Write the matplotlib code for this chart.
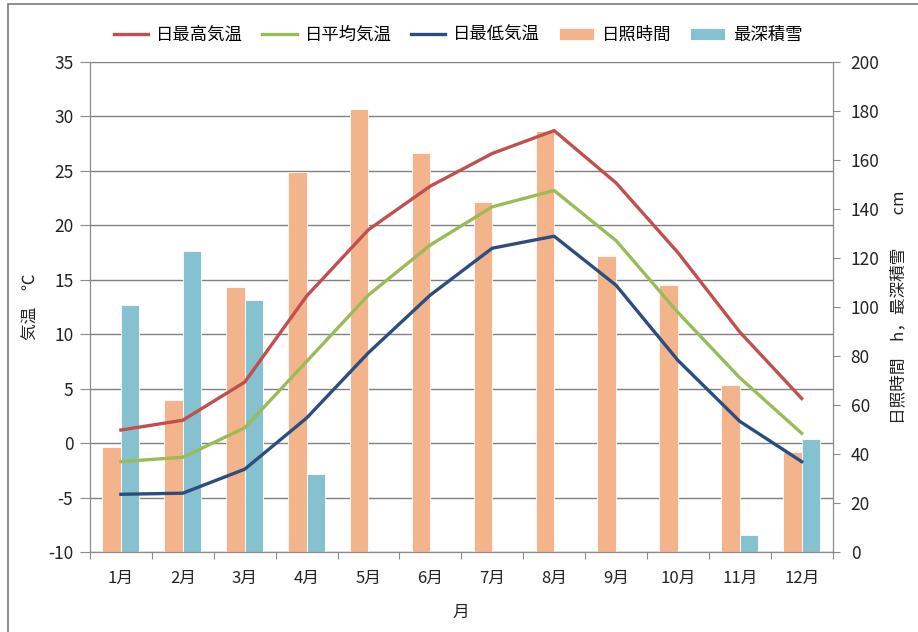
import numpy as np
import matplotlib as mpl
mpl.use('Agg')
import matplotlib.pyplot as plt
from matplotlib.patches import Rectangle

plt.rcParams['font.family'] = ['Noto Sans CJK JP', 'DejaVu Sans']
plt.rcParams['axes.unicode_minus'] = False

# monthly climate normals
months = ['1月', '2月', '3月', '4月', '5月', '6月', '7月', '8月', '9月', '10月', '11月', '12月']
t_max = [1.2, 2.1, 5.6, 13.5, 19.6, 23.6, 26.6, 28.7, 23.9, 17.5, 10.2, 4.1]
t_mean = [-1.7, -1.3, 1.4, 7.5, 13.6, 18.2, 21.7, 23.2, 18.6, 12.0, 6.0, 0.9]
t_min = [-4.7, -4.6, -2.4, 2.3, 8.3, 13.6, 17.9, 19.0, 14.5, 7.6, 2.0, -1.7]
sunshine = [43, 62, 108, 155, 181, 163, 143, 172, 121, 109, 68, 41]
snow = [101, 123, 103, 32, 0, 0, 0, 0, 0, 0, 7, 46]

c_red = '#C0504D'
c_green = '#9BBB59'
c_navy = '#2B4E7F'
c_orange = '#F3B48B'
c_blue = '#86C1CF'
c_axis = '#8A8A8A'

fig = plt.figure(figsize=(9.18, 6.32), dpi=100)
ax = fig.add_axes([0.098, 0.1266, 0.809, 0.7753])
ax_bar = ax.twinx()
ax_line = ax.twinx()

x = np.arange(len(months))
w = 0.3

# grid layer (temperature scale)
ax.set_ylim(-10, 35)
ax.set_yticks(np.arange(-10, 36, 5))
ax.yaxis.grid(True, color='#808080', linewidth=1)
ax.set_axisbelow(True)

# bars on the right-hand scale
ax_bar.bar(x - w / 2, sunshine, w, color=c_orange, edgecolor='white', linewidth=0.6, label='日照時間')
ax_bar.bar(x + w / 2, snow, w, color=c_blue, edgecolor='white', linewidth=0.6, label='最深積雪')
ax_bar.set_ylim(0, 200)
ax_bar.set_yticks(np.arange(0, 201, 20))

# temperature lines on top
ax_line.plot(x, t_max, color=c_red, lw=2.4, label='日最高気温')
ax_line.plot(x, t_mean, color=c_green, lw=2.4, label='日平均気温')
ax_line.plot(x, t_min, color=c_navy, lw=2.4, label='日最低気温')
ax_line.set_ylim(-10, 35)
ax_line.set_yticks([])

for a in (ax, ax_bar, ax_line):
    a.set_xlim(-0.5, 11.5)
    for s in a.spines.values():
        s.set_color(c_axis)
    a.spines['top'].set_visible(False)
ax_line.spines['left'].set_visible(False)
ax_line.spines['right'].set_visible(False)
ax_line.spines['bottom'].set_visible(False)

ax.set_xticks(np.arange(-0.5, 12, 1))
ax.set_xticklabels([])
ax.set_xticks(x, minor=True)
ax.set_xticklabels(months, minor=True)
ax.tick_params(axis='x', which='major', length=5, color=c_axis)
ax.tick_params(axis='x', which='minor', length=0, pad=13, labelsize=12, labelcolor='#222222')
ax.tick_params(axis='y', length=7, color=c_axis, labelsize=12.5, labelcolor='#222222', pad=5)
ax_bar.tick_params(axis='y', length=5, color=c_axis, labelsize=12.5, labelcolor='#222222', pad=8)

ax.set_xlabel('月', fontsize=12, labelpad=12, color='#222222')
ax.set_ylabel('気温　℃', fontsize=12, labelpad=6, color='#222222')
ax_bar.set_ylabel('日照時間　h，最深積雪　　cm', fontsize=12, labelpad=8, color='#222222')

h1, l1 = ax_line.get_legend_handles_labels()
h2, l2 = ax_bar.get_legend_handles_labels()
fig.legend(h1 + h2, l1 + l2, loc='center', bbox_to_anchor=(0.499, 0.945), ncol=5,
           frameon=False, fontsize=12.5, handlelength=2.0, columnspacing=1.1,
           handletextpad=0.45)

# outer frame of the chart area
fig.patches.append(Rectangle((8 / 918, -0.05), 1.1, 1 - 4 / 632 + 0.05,
                             transform=fig.transFigure, fill=False,
                             edgecolor='#7a7a7a', linewidth=1.2))

plt.savefig('out.png', dpi=100)
